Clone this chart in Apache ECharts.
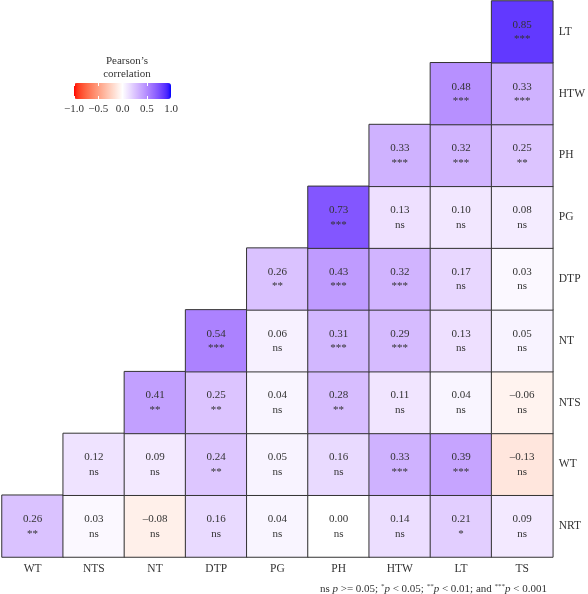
<!DOCTYPE html>
<html>
<head>
<meta charset="utf-8">
<script src="https://cdn.jsdelivr.net/npm/echarts@6/dist/echarts.min.js"></script>
<style>
  html, body { margin: 0; padding: 0; background: #fff; }
  #chart { width: 588px; height: 594px; }
</style>
</head>
<body>
<div id="chart"></div>
<script>
// categories
const xLabels = ['WT', 'NTS', 'NT', 'DTP', 'PG', 'PH', 'HTW', 'LT', 'TS']
const yLabels = ['NRT', 'WT', 'NTS', 'NT', 'DTP', 'PG', 'PH', 'HTW', 'LT'] // bottom -> top

// correlation per row (row i starts at column i)
const rNRT = [0.26, 0.03, -0.08, 0.16, 0.04, 0.00, 0.14, 0.21, 0.09]
const rWT = [0.12, 0.09, 0.24, 0.05, 0.16, 0.33, 0.39, -0.13]
const rNTS = [0.41, 0.25, 0.04, 0.28, 0.11, 0.04, -0.06]
const rNT = [0.54, 0.06, 0.31, 0.29, 0.13, 0.05]
const rDTP = [0.26, 0.43, 0.32, 0.17, 0.03]
const rPG = [0.73, 0.13, 0.10, 0.08]
const rPH = [0.33, 0.32, 0.25]
const rHTW = [0.48, 0.33]
const rLT = [0.85]

// significance per row
const sNRT = ['**', 'ns', 'ns', 'ns', 'ns', 'ns', 'ns', '*', 'ns']
const sWT = ['ns', 'ns', '**', 'ns', 'ns', '***', '***', 'ns']
const sNTS = ['**', '**', 'ns', '**', 'ns', 'ns', 'ns']
const sNT = ['***', 'ns', '***', '***', 'ns', 'ns']
const sDTP = ['**', '***', '***', 'ns', 'ns']
const sPG = ['***', 'ns', 'ns', 'ns']
const sPH = ['***', '***', '**']
const sHTW = ['***', '***']
const sLT = ['***']

const legendTicks = [-1, -0.5, 0, 0.5, 1]

const rRows = [rNRT, rWT, rNTS, rNT, rDTP, rPG, rPH, rHTW, rLT]
const sRows = [sNRT, sWT, sNTS, sNT, sDTP, sPG, sPH, sHTW, sLT]

const cells = []
rRows.forEach((row, yi) => {
  row.forEach((v, k) => {
    cells.push({ value: [yi + k, yi, v], sig: sRows[yi][k] })
  })
})

// red - white - blue gradient, interpolated in Lab like ggplot's gradient2
function labToHex(L, a, b) {
  const fy = (L + 16) / 116, fx = fy + a / 500, fz = fy - b / 200
  const f = t => t > 0.206897 ? t * t * t : (t - 16 / 116) / 7.787
  const X = 0.95047 * f(fx), Y = f(fy), Z = 1.08883 * f(fz)
  const lin = [
    3.2406 * X - 1.5372 * Y - 0.4986 * Z,
    -0.9689 * X + 1.8758 * Y + 0.0415 * Z,
    0.0557 * X - 0.2040 * Y + 1.0570 * Z
  ]
  return '#' + lin.map(c => {
    c = Math.min(1, Math.max(0, c))
    c = c <= 0.0031308 ? 12.92 * c : 1.055 * Math.pow(c, 1 / 2.4) - 0.055
    return Math.round(c * 255).toString(16).padStart(2, '0')
  }).join('')
}
const white = [100, 0, 0], red = [53.24, 80.09, 67.2], blue = [32.3, 79.19, -107.86]
const palette = []
for (let i = -20; i <= 20; i++) {
  const t = Math.abs(i) / 20, end = i < 0 ? red : blue
  palette.push(labToHex(...white.map((w, j) => w + (end[j] - w) * t)))
}

const FONT = 'Liberation Serif'
const fmt = v => (v < 0 ? '\u2013' : '') + Math.abs(v).toFixed(2)

const chart = echarts.init(document.getElementById('chart'))
chart.setOption({
  backgroundColor: '#fff',
  animation: false,
  textStyle: { fontFamily: FONT },
  title: {
    text: 'Pearson\u2019s\ncorrelation',
    left: 122,
    top: 50,
    textAlign: 'center',
    textStyle: { fontFamily: FONT, fontSize: 11, fontWeight: 'normal', color: '#333', lineHeight: 12.5 }
  },
  grid: [
    { left: 2, top: 1, width: 555, height: 556 },
    { left: 74, top: 83, width: 97, height: 16 }
  ],
  xAxis: [
    {
      type: 'category',
      data: xLabels,
      gridIndex: 0,
      axisLine: { show: false },
      axisTick: { show: false },
      splitLine: { show: false },
      axisLabel: { fontFamily: FONT, fontSize: 11.5, color: '#333', margin: 6 }
    },
    {
      type: 'value',
      gridIndex: 1,
      min: -1,
      max: 1,
      interval: 0.5,
      z: 10,
      axisLine: { show: false },
      splitLine: { show: false },
      axisTick: { inside: true, length: 3, lineStyle: { color: '#fff', width: 1 } },
      axisLabel: {
        fontFamily: FONT, fontSize: 11, color: '#333', margin: 5,
        formatter: v => legendTicks.includes(v) ? (v < 0 ? '\u2212' : '') + Math.abs(v).toFixed(1) : ''
      }
    },
    {
      type: 'value',
      gridIndex: 1,
      position: 'top',
      min: -1,
      max: 1,
      interval: 0.5,
      z: 10,
      axisLine: { show: false },
      splitLine: { show: false },
      axisTick: { inside: true, length: 3, lineStyle: { color: '#fff', width: 1 } },
      axisLabel: { show: false }
    }
  ],
  yAxis: [
    {
      type: 'category',
      data: yLabels,
      gridIndex: 0,
      position: 'right',
      axisLine: { show: false },
      axisTick: { show: false },
      splitLine: { show: false },
      axisLabel: { fontFamily: FONT, fontSize: 11.5, color: '#333', margin: 6, align: 'left' }
    },
    {
      type: 'value',
      gridIndex: 1,
      show: false,
      min: 0,
      max: 1
    }
  ],
  visualMap: {
    type: 'continuous',
    seriesIndex: 0,
    dimension: 2,
    min: -1,
    max: 1,
    orient: 'horizontal',
    left: 74,
    top: 83,
    padding: 0,
    itemWidth: 16,
    itemHeight: 97,
    calculable: false,
    text: null,
    showLabel: false,
    inRange: { color: palette }
  },
  graphic: [
    {
      type: 'text',
      right: 41,
      top: 583,
      style: {
        text: 'ns {i|p} >= 0.05; {s|*}{i|p} < 0.05; {s|**}{i|p} < 0.01; and {s|***}{i|p} < 0.001',
        font: '11px ' + FONT,
        fill: '#333',
        rich: {
          i: { fontStyle: 'italic', fontFamily: FONT, fontSize: 11, fill: '#333' },
          s: { fontFamily: FONT, fontSize: 7, fill: '#333', verticalAlign: 'top', padding: [0, 0, 5, 0] }
        }
      }
    }
  ],
  series: [
    {
      type: 'heatmap',
      xAxisIndex: 0,
      yAxisIndex: 0,
      data: cells,
      itemStyle: { borderColor: '#333', borderWidth: 1 },
      emphasis: { disabled: true },
      label: { show: false }
    },
    {
      // cell texts: value over significance, placed through the axes
      type: 'custom',
      xAxisIndex: 0,
      yAxisIndex: 0,
      data: cells,
      silent: true,
      z: 5,
      renderItem: (params, api) => {
        const pt = api.coord([api.value(0), api.value(1)])
        const c = cells[params.dataIndex]
        const txt = (s, dy) => ({
          type: 'text',
          style: {
            text: s, x: pt[0], y: pt[1] + dy,
            align: 'center', verticalAlign: 'middle',
            font: '11px ' + FONT, fill: '#333'
          }
        })
        return { type: 'group', children: [txt(fmt(c.value[2]), -7), txt(c.sig, 7.5)] }
      }
    }
  ]
})
</script>
</body>
</html>
